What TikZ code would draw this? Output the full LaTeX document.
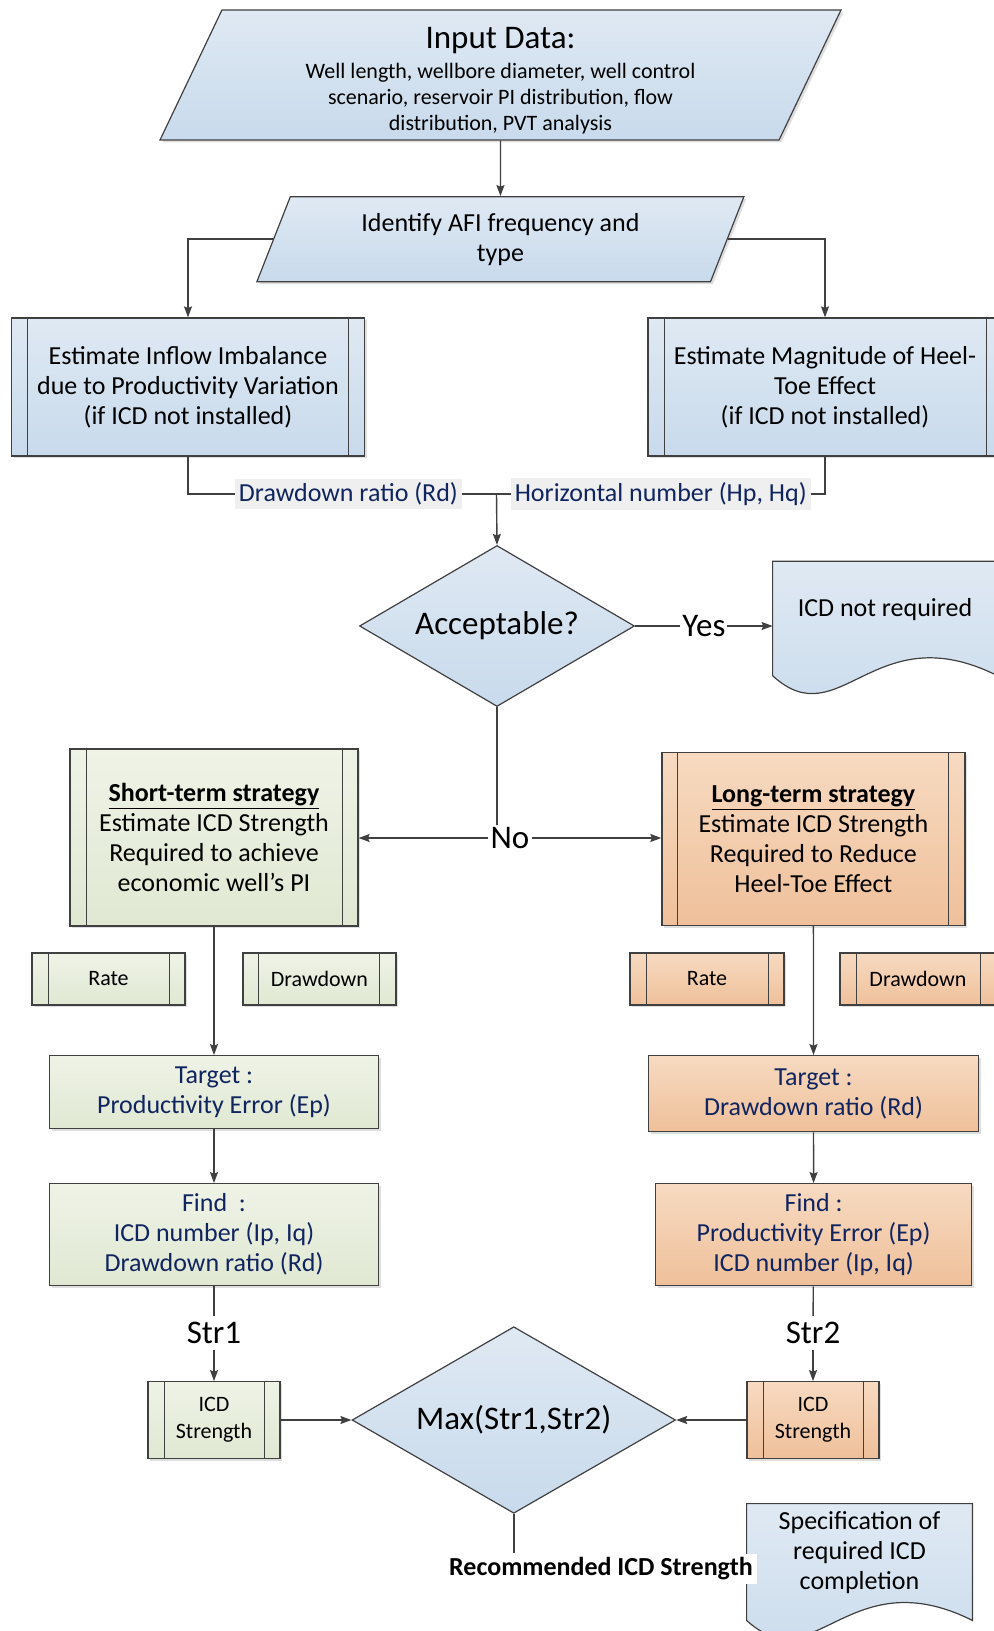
\documentclass[tikz,border=0pt]{standalone}
\usepackage{fontspec}
\setmainfont{Carlito}
\usetikzlibrary{arrows.meta, shapes.geometric, shadows, calc, backgrounds}

\definecolor{lineclr}{HTML}{404040}
\definecolor{bluetop}{HTML}{DFE9F3}
\definecolor{bluebot}{HTML}{C8DAEC}
\definecolor{greentop}{HTML}{EFF3E7}
\definecolor{greenbot}{HTML}{E0E8D2}
\definecolor{orangetop}{HTML}{F7DAC1}
\definecolor{orangebot}{HTML}{EFC09A}
\definecolor{navy}{HTML}{10255F}
\definecolor{tagbg}{HTML}{EFEFEF}

\newcommand{\docoutline}[2]{%
  \path[draw=lineclr, line width=0.6pt, top color=bluetop, bottom color=bluebot]
    (#1.north west) -- (#1.north east) -- ($(#1.south east)+(0,#2)$)
    .. controls ($(#1.south west)!0.45!(#1.south east)+(0,#2-62)$) and ($(#1.south west)!0.3!(#1.south east)+(0,#2+62)$)
    .. ($(#1.south west)+(0,#2)$) -- cycle;
}

\begin{document}
\begin{tikzpicture}[
    x=0.5pt, y=-0.5pt, >={Stealth[length=5.5pt, width=4pt, inset=0.8pt]},
    every node/.style={align=center, font=\fontsize{13}{15}\selectfont},
    line/.style={draw=lineclr, line width=0.7pt},
    boxshadow/.style={drop shadow={shadow xshift=1.2pt, shadow yshift=-1.2pt, opacity=0.25}},
    blueshade/.style={top color=bluetop, bottom color=bluebot},
    greenshade/.style={top color=greentop, bottom color=greenbot},
    orangeshade/.style={top color=orangetop, bottom color=orangebot},
    datanode/.style={trapezium, trapezium left angle=63, trapezium right angle=117, trapezium stretches body,
        draw=lineclr, line width=0.6pt, blueshade, boxshadow},
    procnode/.style={rectangle, draw=lineclr, line width=0.6pt, boxshadow, path picture={
        \draw[lineclr, line width=0.5pt]
          ([xshift=8pt]path picture bounding box.north west) -- ([xshift=8pt]path picture bounding box.south west)
          ([xshift=-8pt]path picture bounding box.north east) -- ([xshift=-8pt]path picture bounding box.south east);}},
    plainnode/.style={rectangle, draw=lineclr, line width=0.6pt, boxshadow, text=navy},
    smallnode/.style={procnode, minimum height=26pt, font=\fontsize{11}{13.5}\selectfont},
    decision/.style={diamond, draw=lineclr, line width=0.6pt, blueshade, inner sep=1pt, font=\fontsize{16.5}{19}\selectfont},
    docnode/.style={rectangle, inner sep=2pt},
    tag/.style={fill=tagbg, text=navy, inner sep=2pt},
    flowtext/.style={fill=white, inner sep=1pt, font=\fontsize{16.5}{19}\selectfont}
]
\useasboundingbox (0,0) rectangle (994,1631);

\node (input_data) [datanode, inner ysep=1pt, minimum width=340.5pt, minimum height=65pt, font=\fontsize{11}{13}\selectfont] at (500.5,75) {{\fontsize{16.5}{19}\selectfont\rule{0pt}{16pt}Input Data:}\\[2pt] Well length, wellbore diameter, well control\\ scenario, reservoir PI distribution, flow\\ distribution, PVT analysis};
\node (afi_type) [datanode, minimum width=243.5pt, minimum height=42.5pt] at (500.4,239.2) {Identify AFI frequency and\\ type};
\node (inflow_imbalance) [procnode, blueshade, minimum width=176.5pt, minimum height=69pt] at (188,387) {Estimate Inflow Imbalance\\ due to Productivity Variation\\ (if ICD not installed)};
\node (heel_toe) [procnode, blueshade, minimum width=177pt, minimum height=69pt] at (825,387) {Estimate Magnitude of Heel-\\ Toe Effect\\ (if ICD not installed)};
\node (acceptable) [decision, aspect=1.71, minimum width=137.5pt, minimum height=80.5pt] at (497,626) {Acceptable?};
\node (not_required) [docnode, minimum width=112pt, minimum height=48.3pt] at (885,610) {ICD not required};
\node (no_split) [flowtext] at (510,838) {No};
\node (short_term) [procnode, greenshade, minimum width=144pt, minimum height=88.5pt] at (214,837.5) {\textbf{\underline{Short-term strategy}}\\ Estimate ICD Strength\\ Required to achieve\\ economic well’s PI};
\node (long_term) [procnode, orangeshade, minimum width=151.5pt, minimum height=86.5pt] at (813.4,839) {\textbf{\underline{Long-term strategy}}\\ Estimate ICD Strength\\ Required to Reduce\\ Heel-Toe Effect};
\node (rate_short) [smallnode, greenshade, minimum width=76.5pt] at (108.5,979) {Rate};
\node (drawdown_short) [smallnode, greenshade, minimum width=76.5pt] at (319.4,979) {Drawdown};
\node (rate_long) [smallnode, orangeshade, minimum width=77pt] at (707,979) {Rate};
\node (drawdown_long) [smallnode, orangeshade, minimum width=78pt] at (918,979) {Drawdown};
\node (target_short) [plainnode, greenshade, minimum width=164.5pt, minimum height=36.3pt] at (214,1092) {Target :\\ Productivity Error (Ep)};
\node (find_short) [plainnode, greenshade, minimum width=164.5pt, minimum height=51pt] at (214,1234.7) {Find~~:\\ ICD number (Ip, Iq)\\ Drawdown ratio (Rd)};
\node (target_long) [plainnode, orangeshade, minimum width=165pt, minimum height=38pt] at (813.5,1093.7) {Target :\\ Drawdown ratio (Rd)};
\node (find_long) [plainnode, orangeshade, minimum width=158pt, minimum height=51pt] at (813.6,1234.7) {Find :\\ Productivity Error (Ep)\\ ICD number (Ip, Iq)};
\node (str_one) [flowtext, inner sep=3pt] at (214,1333) {Str1};
\node (str_two) [flowtext, inner sep=3pt] at (813,1333) {Str2};
\node (icd_short) [smallnode, greenshade, minimum width=66pt, minimum height=38.3pt] at (214,1420) {ICD\\ Strength};
\node (icd_long) [smallnode, orangeshade, minimum width=66pt, minimum height=38.3pt] at (813,1420) {ICD\\ Strength};
\node (max_strength) [decision, aspect=1.73, minimum width=161.75pt, minimum height=93.3pt] at (513.8,1420) {Max(Str1,Str2)};
\node (specification) [docnode, minimum width=112.5pt, minimum height=49pt] at (859.5,1553) {Specification of\\ required ICD\\ completion};
\node (recommended) [fill=white, inner sep=2pt, font=\fontsize{13}{15}\selectfont\bfseries] at (601,1569) {Recommended ICD Strength};

\begin{pgfonlayer}{background}
\docoutline{not_required}{17}
\docoutline{specification}{18}
\end{pgfonlayer}

\draw[line, ->] (input_data) -- (afi_type);
\draw[line, ->] (afi_type.west) -| (inflow_imbalance.north);
\draw[line, ->] (afi_type.east) -| (heel_toe.north);
\coordinate (merge) at (496.5,494);
\draw[line] (inflow_imbalance.south) |- node[tag, pos=0.76] {Drawdown ratio (Rd)} (merge);
\draw[line] (heel_toe.south) |- node[tag, pos=0.75] {Horizontal number (Hp, Hq)} (merge);
\draw[line, ->] (merge) -- (acceptable.north);
\draw[line, ->] (acceptable.east) -- node[flowtext] {Yes} (acceptable.east -| not_required.west);
\draw[line] (acceptable.south) -- (acceptable.south |- no_split.north);
\draw[line, ->] (no_split.west) -- (no_split.west -| short_term.east);
\draw[line, ->] (no_split.east) -- (no_split.east -| long_term.west);
\draw[line, ->] (short_term) -- (target_short);
\draw[line, ->] (target_short) -- (find_short);
\draw[line] (find_short) -- (str_one);
\draw[line, ->] (str_one) -- (icd_short);
\draw[line, ->] (long_term) -- (target_long);
\draw[line, ->] (target_long) -- (find_long);
\draw[line] (find_long) -- (str_two);
\draw[line, ->] (str_two) -- (icd_long);
\draw[line, ->] (icd_short) -- (max_strength);
\draw[line, ->] (icd_long) -- (max_strength);
\draw[line] (max_strength.south) -- (max_strength.south |- recommended.north);
\end{tikzpicture}
\end{document}
